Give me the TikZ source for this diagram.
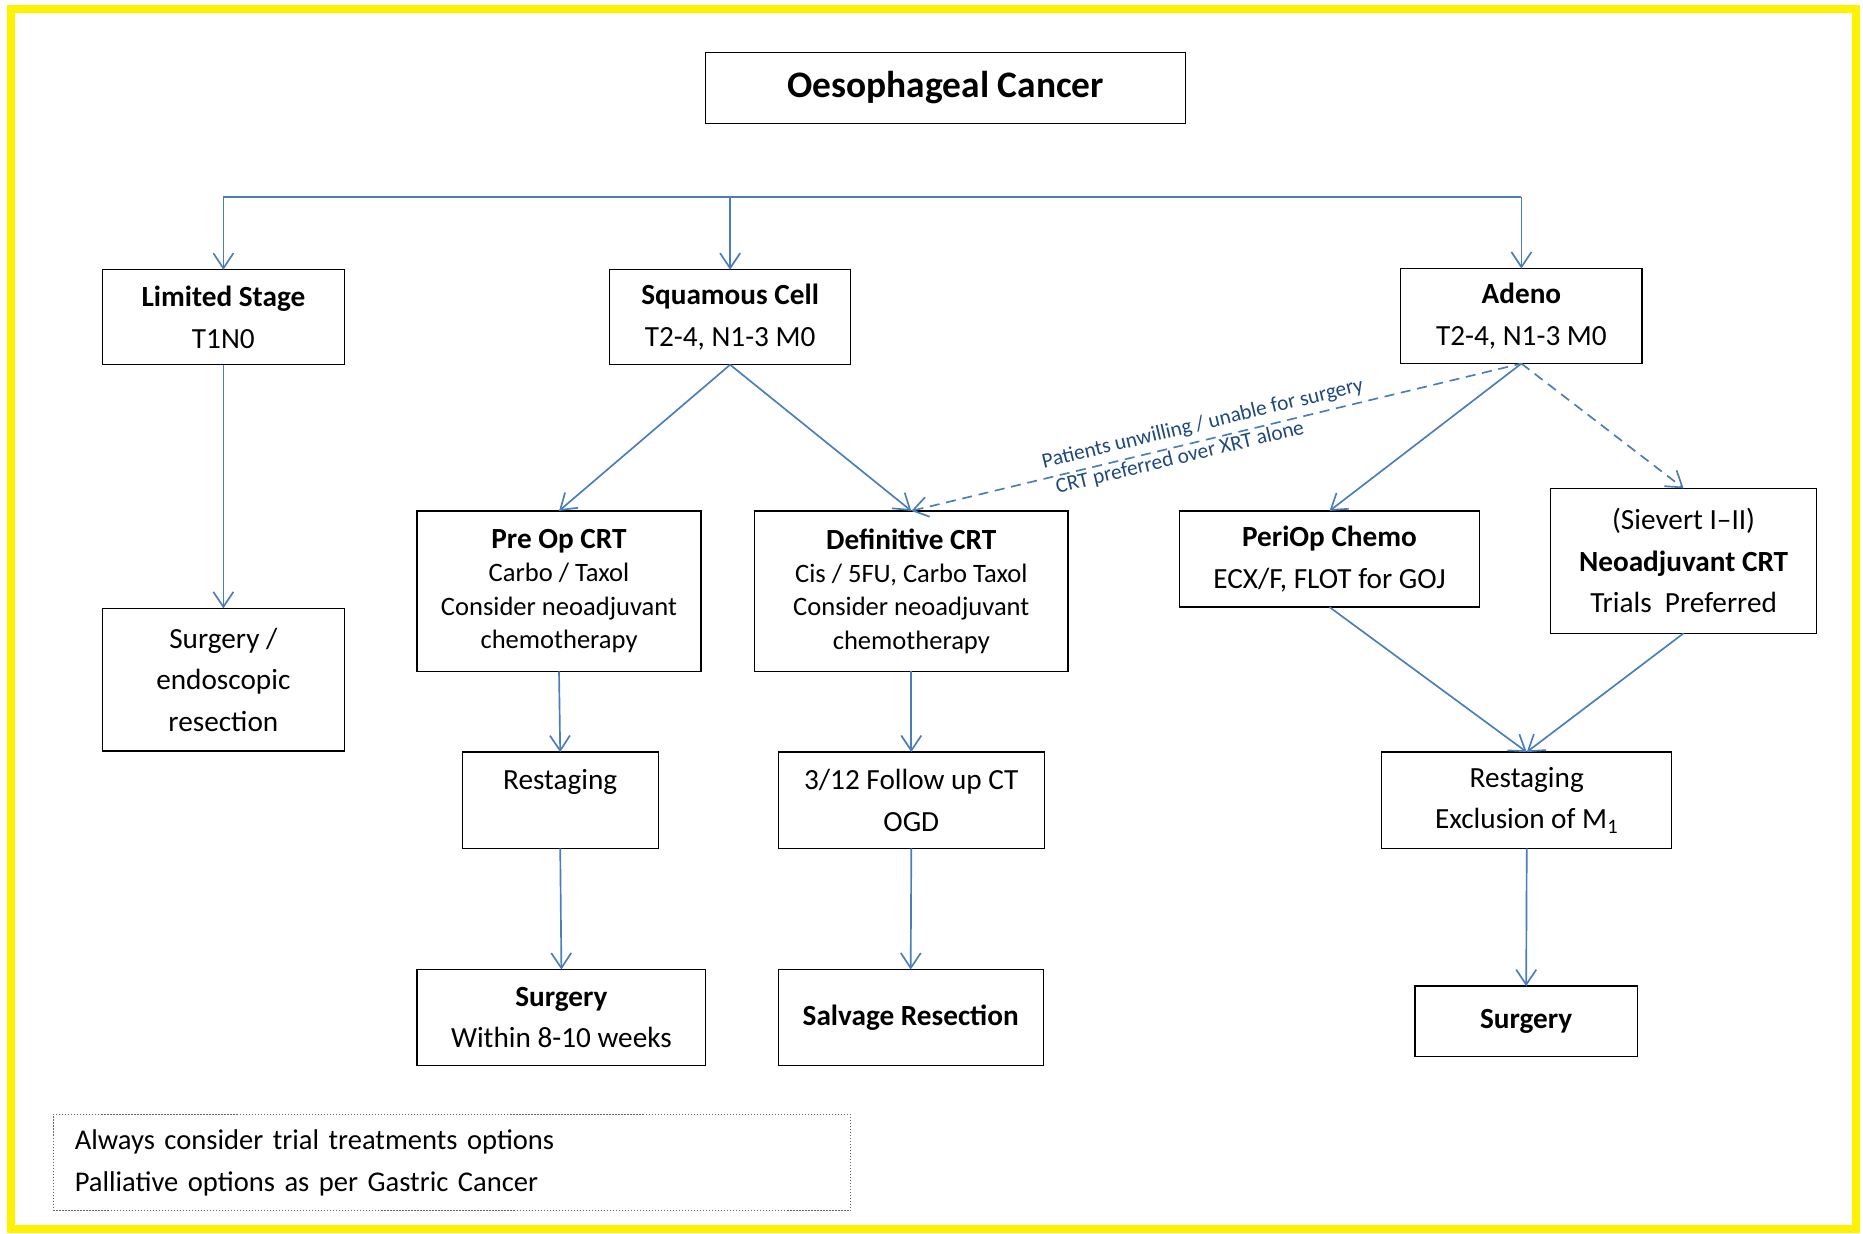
\documentclass[tikz,border=0pt]{standalone}
\usepackage{fontspec}
\setmainfont{Carlito}
\usetikzlibrary{arrows.meta}
\definecolor{linkblue}{RGB}{74,126,187}
\definecolor{notenavy}{RGB}{31,73,125}
\begin{document}
\begin{tikzpicture}[x=0.025cm, y=-0.025cm, >={Straight Barb[length=9pt,width=12pt]},
    every node/.style={draw, inner sep=0pt, outer sep=0pt, align=center, line width=0.8pt, font=\fontsize{17.5}{24.9}\selectfont},
    box/.style 2 args={minimum width=#1*0.025cm, minimum height=#2*0.025cm},
    tight/.style={font=\fontsize{15.9}{19.9}\selectfont},
    link/.style={draw=linkblue, line width=1pt, ->},
    maybe/.style={link, dash pattern=on 6pt off 4pt},
    lbl/.style={draw=none, text=notenavy, inner sep=1pt, font=\fontsize{12.8}{15}\selectfont},
    note/.style={draw=black!60, densely dotted, line width=0.6pt, align=left, text width=15.875cm, inner xsep=0.45cm, minimum height=2.025cm, font=\fontsize{17.1}{24.9}\selectfont}]
      \useasboundingbox (0,0) rectangle (1568,1038);
      \draw[yellow, line width=4.8pt] (9.3,7.6) rectangle (1562,1034);
      \node (title) at (796,74) [box={404}{60}, font=\fontsize{22.4}{26}\selectfont\bfseries] {Oesophageal Cancer};
      \node (limited) at (188,267) [box={204}{80}] {\textbf{Limited Stage}\\T1N0};
      \node (squamous) at (614.5,267) [box={203}{80}] {\textbf{Squamous Cell}\\T2-4, N1-3 M0};
      \node (adeno) at (1280.5,266) [box={203}{80}] {\textbf{Adeno}\\T2-4, N1-3 M0};
      \node (endoscopic) at (188,572) [box={204}{120}] {Surgery /\\endoscopic\\resection};
      \node (preop) at (470.5,497.5) [box={239}{135}, tight] {\textbf{\fontsize{17.5}{19.9}\selectfont Pre Op CRT}\\Carbo / Taxol\\Consider neoadjuvant\\chemotherapy};
      \node (defcrt) at (767,497.5) [box={264}{135}, tight] {\textbf{\fontsize{17.5}{19.9}\selectfont Definitive CRT}\\Cis / 5FU, Carbo Taxol\\Consider neoadjuvant\\chemotherapy};
      \node (periop) at (1119,470.5) [box={252}{81}] {\textbf{PeriOp Chemo}\\ECX/F, FLOT for GOJ};
      \node (sievert) at (1417,472) [box={224}{122}] {(Sievert I--II)\\\textbf{Neoadjuvant CRT}\\Trials~ Preferred};
      \node (restageL) at (471.5,673.5) [box={165}{81}] {Restaging\\\mbox{}};
      \node (followup) at (767,673.5) [box={224}{81}] {3/12 Follow up CT\\OGD};
      \node (restageR) at (1285,673.5) [box={244}{81}] {Restaging\\Exclusion of M\textsubscript{1}};
      \node (surgeryL) at (472.5,856.5) [box={243}{81}] {\textbf{Surgery}\\Within 8-10 weeks};
      \node (salvage) at (766.5,856.5) [box={223}{81}] {\textbf{Salvage Resection}};
      \node (surgeryR) at (1284.5,859.5) [box={187}{59}] {\textbf{Surgery}};
      \node (note) at (380.5,978.5) [note] {Always consider trial treatments options\\Palliative options as per Gastric Cancer};
      \coordinate (barL) at (188,166);
      \coordinate (barM) at (614.5,166);
      \coordinate (barR) at (1280.5,166);
      \draw[link, -] (barL) -- (barR);
      \foreach \source/\dest in {barL/limited, barM/squamous, barR/adeno}
        \draw[link] (\source) -- (\dest.north);
      \foreach \source/\dest in {limited/endoscopic, squamous/preop, squamous/defcrt, adeno/periop, preop/restageL, restageL/surgeryL, defcrt/followup, followup/salvage, periop/restageR, sievert/restageR, restageR/surgeryR}
        \draw[link] (\source.south) -- (\dest.north);
      \draw[maybe] (adeno.south) -- (sievert.north);
      \draw[maybe, <-] (defcrt.north) -- (adeno.south)
        node[lbl, pos=0.484, sloped, above=3pt] {Patients unwilling / unable for surgery}
        node[lbl, pos=0.436, sloped, below=0.5pt] {CRT preferred over XRT alone};
    \end{tikzpicture}
\end{document}
